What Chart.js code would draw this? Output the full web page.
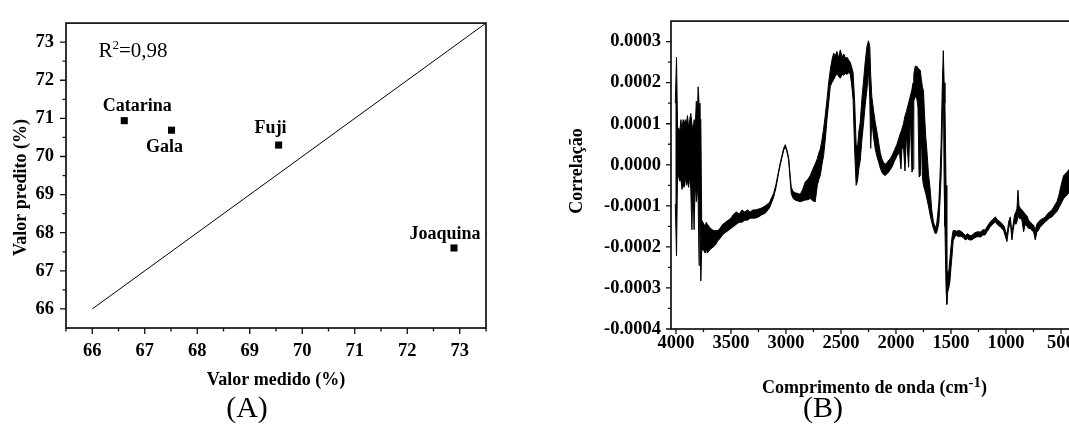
<!DOCTYPE html>
<html>
<head>
<meta charset="utf-8">
<script src="https://cdn.jsdelivr.net/npm/chart.js@4.4.1/dist/chart.umd.min.js"></script>
<style>
  html, body { margin: 0; padding: 0; background: #fff; width: 1069px; height: 430px; overflow: hidden; }
  .panel { position: absolute; top: 0; height: 430px; }
  #panelA { left: 0; width: 520px; }
  #panelB { left: 530px; width: 550px; }
</style>
</head>
<body>
<div class="panel" id="panelA"><canvas id="chartA"></canvas></div>
<div class="panel" id="panelB"><canvas id="chartB"></canvas></div>
<script>
// (A) valor medido x valor predito
const cultivares = ['Catarina', 'Gala', 'Fuji', 'Joaquina'];
const medido = [66.61, 67.51, 69.55, 72.89];
const predito = [70.94, 70.69, 70.30, 67.60];
const linhaX = [66, 73.5];
const linhaY = [66, 73.5];
const ticksA = [66, 67, 68, 69, 70, 71, 72, 73];
const minorXA = [65.5, 66.5, 67.5, 68.5, 69.5, 70.5, 71.5, 72.5, 73.5];
const minorYA = [66.5, 67.5, 68.5, 69.5, 70.5, 71.5, 72.5];

// (B) correlação x comprimento de onda, valores em unidades de 1e-4
// envelope superior e inferior do traço (ruído incluído)
const ondaB = [
  4006, 3995, 3985, 3975, 3965, 3955, 3945, 3935, 3925, 3915,
  3905, 3895, 3885, 3875, 3865, 3855, 3845, 3835, 3825, 3815,
  3805, 3798, 3790, 3782, 3774, 3766, 3755, 3745, 3735, 3725,
  3715, 3700, 3685, 3660, 3640, 3620, 3600, 3575, 3550, 3525,
  3500, 3475, 3450, 3425, 3400, 3375, 3350, 3325, 3300, 3279,
  3250, 3220, 3188, 3150, 3113, 3090, 3067, 3050, 3036, 3020,
  3006, 2992, 2976, 2964, 2952, 2935, 2916, 2893, 2870, 2848,
  2825, 2800, 2779, 2755, 2734, 2715, 2700, 2688, 2673, 2658,
  2643, 2627, 2612, 2597, 2582, 2567, 2552, 2537, 2522, 2506,
  2490, 2475, 2461, 2445, 2430, 2416, 2405, 2390, 2375, 2362,
  2350, 2338, 2325, 2310, 2294, 2280, 2264, 2250, 2238, 2230,
  2220, 2205, 2188, 2173, 2158, 2143, 2128, 2112, 2097, 2082,
  2067, 2052, 2037, 2015, 1991, 1968, 1955, 1946, 1932, 1918,
  1905, 1885, 1870, 1855, 1845, 1838, 1825, 1810, 1800, 1790,
  1779, 1770, 1760, 1750, 1740, 1730, 1720, 1705, 1690, 1675,
  1660, 1645, 1632, 1620, 1610, 1600, 1590, 1580, 1570, 1562,
  1555, 1545, 1538, 1530, 1520, 1510, 1500, 1490, 1480, 1465,
  1450, 1430, 1410, 1390, 1370, 1350, 1330, 1310, 1290, 1270,
  1250, 1230, 1210, 1190, 1170, 1143, 1120, 1097, 1075, 1052,
  1035, 1022, 1005, 991, 976, 961, 946, 935, 922, 910,
  900, 891, 882, 870, 855, 840, 825, 809, 795, 779,
  765, 749, 734, 720, 704, 690, 675, 660, 643, 625,
  605, 582, 560, 537, 520, 506, 490, 476, 460, 446,
  424, 410
];
const supB = [
  1.5, 2.62, 0.85, 0.9, 0.8, 1.1, 0.85, 1.1, 1.0, 1.1,
  1.0, 1.2, 0.9, 1.1, 1.25, 1.0, 0.85, 1.1, 0.9, 1.55,
  1.3, 1.9, 1.5, 1.15, 1.1, -1.35, -1.4, -1.45, -1.5, -1.4,
  -1.45, -1.5, -1.55, -1.6, -1.6, -1.6, -1.55, -1.45, -1.4, -1.35,
  -1.3, -1.2, -1.15, -1.2, -1.1, -1.15, -1.1, -1.15, -1.1, -1.1,
  -1.08, -1.05, -1.0, -0.92, -0.7, -0.47, -0.15, 0.07, 0.23, 0.41,
  0.49, 0.37, 0.18, -0.2, -0.55, -0.65, -0.68, -0.7, -0.72, -0.6,
  -0.42, -0.35, -0.26, -0.1, 0.02, 0.15, 0.3, 0.38, 0.6, 0.87,
  1.2, 1.59, 2.0, 2.31, 2.55, 2.72, 2.65, 2.76, 2.6, 2.8,
  2.62, 2.7, 2.6, 2.62, 2.55, 2.5, 2.4, 2.25, 1.5, 0.5,
  0.4, 0.8, 1.03, 1.6, 2.07, 2.5, 2.88, 3.02, 2.88, 2.2,
  1.67, 1.35, 1.03, 0.8, 0.55, 0.3, 0.14, 0.05, 0.02, 0.05,
  0.11, 0.15, 0.22, 0.35, 0.5, 0.7, 0.8, 0.87, 1.0, 1.19,
  1.3, 1.51, 1.67, 1.83, 2.0, 2.2, 2.4, 2.4, 2.35, 2.33,
  2.3, 2.1, 1.9, 1.8, 1.2, 0.7, 0.38, -0.2, -0.58, -1.1,
  -1.39, -1.5, -1.5, -1.2, -0.9, -0.3, 0.5, 1.8, 2.78, 2.0,
  1.5, -0.5, -2.7, -2.6, -2.6, -2.3, -2.0, -1.75, -1.6, -1.6,
  -1.62, -1.6, -1.62, -1.66, -1.72, -1.68, -1.72, -1.72, -1.67, -1.64,
  -1.63, -1.64, -1.58, -1.59, -1.5, -1.39, -1.33, -1.27, -1.35, -1.39,
  -1.44, -1.47, -1.6, -1.71, -1.39, -1.27, -1.67, -1.45, -1.22, -1.15,
  -1.06, -0.62, -1.0, -1.06, -1.1, -1.15, -1.2, -1.25, -1.35, -1.39,
  -1.44, -1.47, -1.59, -1.45, -1.39, -1.35, -1.32, -1.3, -1.27, -1.2,
  -1.15, -1.1, -1.0, -0.9, -0.75, -0.58, -0.4, -0.26, -0.22, -0.18,
  -0.1, -0.15
];
const infB = [
  -0.95, -2.22, -0.1, -0.3, -0.4, -0.35, -0.6, -0.5, -0.55, -0.3,
  -0.5, -0.4, -0.55, -0.3, -0.6, -1.58, -0.5, -1.58, -0.4, -0.9,
  -0.5, -0.9, -2.45, -1.2, -2.83, -2.1, -2.05, -2.1, -2.15, -2.05,
  -2.15, -2.1, -2.05, -2.0, -1.95, -1.85, -1.8, -1.7, -1.65, -1.6,
  -1.55, -1.5, -1.45, -1.4, -1.4, -1.35, -1.35, -1.3, -1.3, -1.3,
  -1.27, -1.22, -1.18, -1.05, -0.8, -0.55, -0.2, 0.02, 0.18, 0.36,
  0.44, 0.32, 0.13, -0.3, -0.7, -0.82, -0.86, -0.88, -0.9, -0.88,
  -0.86, -0.85, -0.82, -0.88, -0.9, -0.5, -0.35, -0.26, 0.0, 0.22,
  0.6, 1.11, 1.5, 1.91, 2.0, 2.07, 2.15, 2.23, 2.15, 2.11,
  2.2, 2.18, 2.23, 2.2, 2.25, 2.2, 2.0, 1.6, 0.3, -0.5,
  -0.4, -0.1, 0.1, 0.6, 1.03, 1.45, 1.83, 2.3, 1.6, 0.4,
  1.1, 0.7, 0.38, 0.2, 0.07, -0.08, -0.18, -0.24, -0.26, -0.22,
  -0.18, -0.12, -0.06, 0.08, 0.22, 0.3, -0.1, 0.38, 0.45, -0.15,
  0.75, -0.06, 1.2, -0.18, -0.1, 1.55, 1.67, 1.6, 1.4, -0.3,
  -0.26, 0.8, -0.3, -0.5, -0.6, -0.7, -0.82, -1.0, -1.22, -1.4,
  -1.55, -1.67, -1.67, -1.55, -1.4, -0.9, -0.3, 0.8, 2.3, -0.5,
  -1.5, -3.0, -3.4, -3.1, -3.0, -2.85, -2.5, -2.2, -1.85, -1.75,
  -1.72, -1.75, -1.74, -1.77, -1.83, -1.8, -1.83, -1.83, -1.79, -1.76,
  -1.75, -1.76, -1.71, -1.71, -1.62, -1.51, -1.45, -1.39, -1.47, -1.51,
  -1.56, -1.6, -1.75, -1.87, -1.55, -1.39, -1.83, -1.6, -1.39, -1.45,
  -1.39, -1.2, -1.3, -1.31, -1.35, -1.63, -1.45, -1.5, -1.55, -1.55,
  -1.6, -1.63, -1.83, -1.65, -1.59, -1.52, -1.48, -1.44, -1.39, -1.35,
  -1.3, -1.27, -1.2, -1.14, -1.05, -0.98, -0.9, -0.82, -0.78, -0.74,
  -0.66, -0.65
];
const xTicksB = [4000, 3500, 3000, 2500, 2000, 1500, 1000, 500];
const xMinorB = [3750, 3250, 2750, 2250, 1750, 1250, 750];
const yTicksB = [-4, -3, -2, -1, 0, 1, 2, 3];
const yMinorB = [-3.5, -2.5, -1.5, -0.5, 0.5, 1.5, 2.5];

const SERIF = "'Liberation Serif', 'Times New Roman', serif";
Chart.defaults.font.family = SERIF;
Chart.defaults.color = '#000';

// caixa em volta da área do gráfico + marcas dos eixos (maiores e menores)
const moldura = {
  id: 'moldura',
  afterDraw(chart, args, o) {
    const {ctx, chartArea: a} = chart;
    const sx = chart.scales.x, sy = chart.scales.y;
    ctx.save();
    ctx.strokeStyle = '#111';
    ctx.lineWidth = 1.7;
    ctx.strokeRect(a.left, a.top, a.right - a.left, a.bottom - a.top);
    ctx.lineWidth = 1.3;
    ctx.beginPath();
    o.xMajor.forEach(v => { const p = sx.getPixelForValue(v); ctx.moveTo(p, a.bottom); ctx.lineTo(p, a.bottom + o.major); });
    o.xMinor.forEach(v => { const p = sx.getPixelForValue(v); ctx.moveTo(p, a.bottom); ctx.lineTo(p, a.bottom + o.minor); });
    o.yMajor.forEach(v => { const p = sy.getPixelForValue(v); ctx.moveTo(a.left, p); ctx.lineTo(a.left - o.major, p); });
    o.yMinor.forEach(v => { const p = sy.getPixelForValue(v); ctx.moveTo(a.left, p); ctx.lineTo(a.left - o.minor, p); });
    ctx.stroke();
    ctx.restore();
  }
};

// texto com partes em fontes diferentes (sobrescritos)
function textoRico(ctx, partes, x, y, centro) {
  let w = 0;
  partes.forEach(p => { ctx.font = p.font; w += ctx.measureText(p.t).width; });
  let cx = centro ? x - w / 2 : x;
  ctx.textAlign = 'left';
  ctx.textBaseline = 'alphabetic';
  partes.forEach(p => {
    ctx.font = p.font;
    ctx.fillText(p.t, cx, y + (p.dy || 0));
    cx += ctx.measureText(p.t).width;
  });
}

function tituloVertical(ctx, texto, x, y) {
  ctx.save();
  ctx.translate(x, y);
  ctx.rotate(-Math.PI / 2);
  ctx.textAlign = 'center';
  ctx.textBaseline = 'alphabetic';
  ctx.fillText(texto, 0, 0);
  ctx.restore();
}

const BOLD = 'bold 18px ' + SERIF;
const tickFont = {family: SERIF, size: 18.5, weight: 'bold'};

// deslocamento dos rótulos em relação a cada ponto (px)
const rotuloDesloc = [[13, -10], [-7, 22], [-8, -12], [-9, -9]];

const textosA = {
  id: 'textosA',
  afterDraw(chart) {
    const {ctx, chartArea: a, scales: {x, y}} = chart;
    ctx.save();
    ctx.fillStyle = '#000';
    ctx.font = BOLD;
    ctx.textAlign = 'center';
    ctx.textBaseline = 'alphabetic';
    cultivares.forEach((nome, i) => {
      const [dx, dy] = rotuloDesloc[i];
      ctx.fillText(nome, x.getPixelForValue(medido[i]) + dx, y.getPixelForValue(predito[i]) + dy);
    });
    ctx.fillText('Valor medido (%)', (a.left + a.right) / 2, a.bottom + 57);
    tituloVertical(ctx, 'Valor predito (%)', a.left - 40, (a.top + a.bottom) / 2 + 12);
    textoRico(ctx, [
      {t: 'R', font: '21px ' + SERIF},
      {t: '2', font: '13px ' + SERIF, dy: -8},
      {t: '=0,98', font: '21px ' + SERIF}
    ], a.left + 32.5, a.top + 33.5, false);
    ctx.font = '30px ' + SERIF;
    ctx.textAlign = 'center';
    ctx.fillText('(A)', 247, 417);
    ctx.restore();
  }
};

const textosB = {
  id: 'textosB',
  afterDraw(chart) {
    const {ctx, chartArea: a} = chart;
    ctx.save();
    ctx.fillStyle = '#000';
    ctx.font = BOLD;
    tituloVertical(ctx, 'Correlação', a.left - 89, (a.top + a.bottom) / 2 - 4);
    textoRico(ctx, [
      {t: 'Comprimento de onda (cm', font: BOLD},
      {t: '-1', font: 'bold 15px ' + SERIF, dy: -6},
      {t: ')', font: BOLD}
    ], (a.left + a.right) / 2 + 3, a.bottom + 64, true);
    ctx.font = '30px ' + SERIF;
    ctx.textAlign = 'center';
    ctx.fillText('(B)', 293, 417);
    ctx.restore();
  }
};

new Chart(document.getElementById('chartA'), {
  type: 'scatter',
  data: {
    datasets: [{
      data: medido.map((v, i) => ({x: v, y: predito[i]})),
      pointStyle: 'rect',
      pointRadius: 5,
      backgroundColor: '#000',
      borderWidth: 0
    }, {
      type: 'line',
      data: linhaX.map((v, i) => ({x: v, y: linhaY[i]})),
      borderColor: '#000',
      borderWidth: 1,
      pointRadius: 0,
      fill: false
    }]
  },
  options: {
    responsive: true,
    maintainAspectRatio: false,
    animation: false,
    layout: {padding: {top: 16, right: 34, left: 0, bottom: 0}},
    plugins: {
      legend: {display: false},
      tooltip: {enabled: false},
      moldura: {xMajor: ticksA, xMinor: minorXA, yMajor: ticksA, yMinor: minorYA, major: 6, minor: 3.5}
    },
    scales: {
      x: {
        type: 'linear', min: 65.5, max: 73.5,
        afterBuildTicks: s => { s.ticks = ticksA.map(v => ({value: v})); },
        afterFit: s => { s.height = 102; },
        ticks: {font: tickFont, color: '#000', padding: 12, autoSkip: false, maxRotation: 0, callback: v => String(v)},
        grid: {display: false, drawTicks: false},
        border: {display: false}
      },
      y: {
        type: 'linear', min: 65.5, max: 73.5,
        afterBuildTicks: s => { s.ticks = ticksA.map(v => ({value: v})); },
        afterFit: s => { s.width = 66; },
        ticks: {font: tickFont, color: '#000', padding: 12, autoSkip: false, callback: v => String(v)},
        grid: {display: false, drawTicks: false},
        border: {display: false}
      }
    }
  },
  plugins: [moldura, textosA]
});

new Chart(document.getElementById('chartB'), {
  type: 'line',
  data: {
    datasets: [{
      data: ondaB.map((w, i) => ({x: w, y: infB[i]})),
      borderColor: '#000',
      borderWidth: 1,
      pointRadius: 0,
      fill: false
    }, {
      data: ondaB.map((w, i) => ({x: w, y: supB[i]})),
      borderColor: '#000',
      backgroundColor: '#000',
      borderWidth: 1,
      pointRadius: 0,
      fill: '-1'
    }]
  },
  options: {
    responsive: true,
    maintainAspectRatio: false,
    animation: false,
    layout: {padding: {top: 17, right: 8, left: 0, bottom: 0}},
    plugins: {
      legend: {display: false},
      tooltip: {enabled: false},
      moldura: {xMajor: xTicksB, xMinor: xMinorB, yMajor: yTicksB, yMinor: yMinorB, major: 5, minor: 3}
    },
    scales: {
      x: {
        type: 'linear', reverse: true, min: 400, max: 4045,
        afterBuildTicks: s => { s.ticks = xTicksB.map(v => ({value: v})); },
        afterFit: s => { s.height = 101; },
        ticks: {font: tickFont, color: '#000', padding: 3, autoSkip: false, maxRotation: 0, callback: v => String(v)},
        grid: {display: false, drawTicks: false},
        border: {display: false}
      },
      y: {
        type: 'linear', min: -4, max: 3.5,
        afterBuildTicks: s => { s.ticks = yTicksB.map(v => ({value: v})); },
        afterFit: s => { s.width = 141; },
        ticks: {font: tickFont, color: '#000', padding: 10, autoSkip: false, callback: v => (v / 10000).toFixed(4)},
        grid: {display: false, drawTicks: false},
        border: {display: false}
      }
    }
  },
  plugins: [moldura, textosB]
});
</script>
</body>
</html>
